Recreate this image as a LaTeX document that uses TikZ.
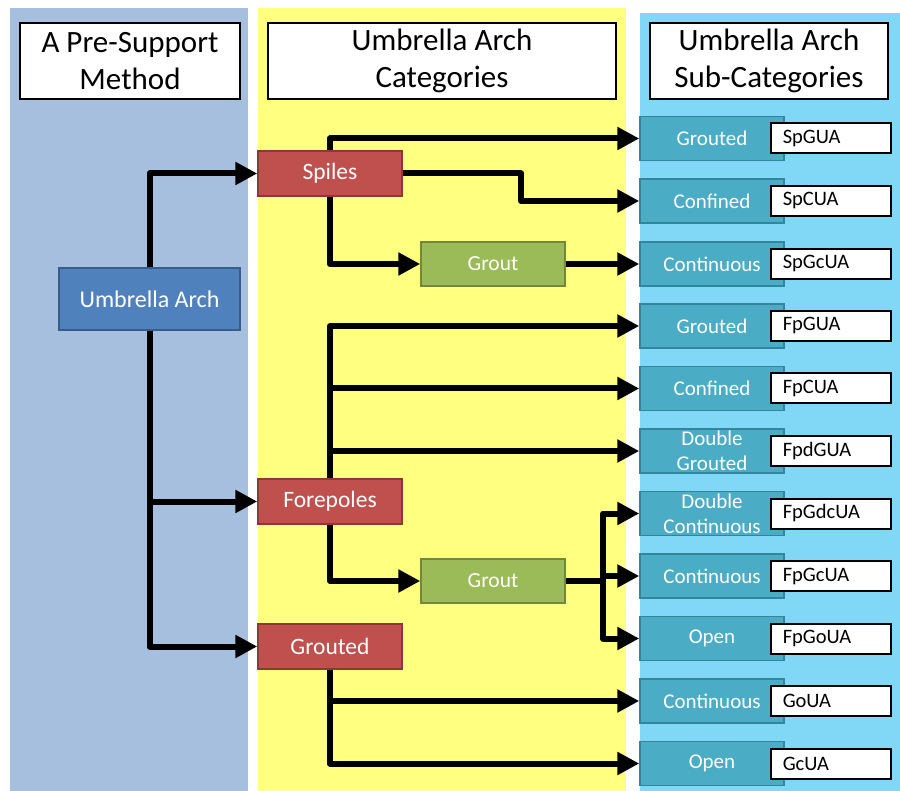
\documentclass[tikz,border=0pt]{standalone}
\usepackage{fontspec}
\setmainfont{Carlito}
\usetikzlibrary{positioning}
\usetikzlibrary{arrows.meta}
\definecolor{col-left}{RGB}{167,191,222}
\definecolor{col-mid}{RGB}{255,255,128}
\definecolor{col-right}{RGB}{128,216,246}
\definecolor{arch-blue}{RGB}{79,129,189}
\definecolor{arch-blue-dark}{RGB}{56,93,138}
\definecolor{cat-red}{RGB}{192,80,77}
\definecolor{cat-red-dark}{RGB}{140,56,53}
\definecolor{grout-green}{RGB}{155,187,89}
\definecolor{grout-green-dark}{RGB}{113,137,62}
\definecolor{sub-teal}{RGB}{75,172,198}
\definecolor{sub-teal-dark}{RGB}{49,133,156}

\begin{document}
\begin{tikzpicture}[x=1pt, y=-1pt, >={Triangle[length=22pt,width=22pt]},
  link/.style={line width=6pt, line join=round, ->},
  head/.style={draw, line width=2.5pt, fill=white, minimum height=76pt, align=center, font=\fontsize{31}{37}\selectfont},
  main/.style={fill=arch-blue, draw=arch-blue-dark, line width=1.5pt, text=white, minimum width=181pt, minimum height=62pt, font=\fontsize{24}{28}\selectfont},
  cat/.style={fill=cat-red, draw=cat-red-dark, line width=1.5pt, text=white, minimum width=144pt, minimum height=45pt, font=\fontsize{23.5}{28}\selectfont},
  grout/.style={fill=grout-green, draw=grout-green-dark, line width=1.5pt, text=white, minimum width=144pt, minimum height=44pt, font=\fontsize{21.5}{25}\selectfont},
  sub/.style={fill=sub-teal, draw=sub-teal-dark, line width=1.5pt, text=white, minimum width=144pt, minimum height=44pt, inner ysep=0pt, align=center, font=\fontsize{21}{25}\selectfont},
  code/.style={draw, line width=2pt, fill=white, text width=96pt, inner xsep=12pt, inner ysep=0pt, minimum height=30pt, align=left, font=\fontsize{20.5}{24}\selectfont},
  node distance=-15pt]

\useasboundingbox (0,0) rectangle (900,791);

% the three columns
\fill [col-left] (10,8) rectangle (248,791);
\fill [col-mid] (258,8) rectangle (626,791);
\fill [col-right] (640,13) rectangle (900,791);

\node [head, minimum width=220pt] (h1) at (130,61) {A Pre-Support\\Method};
\node [head, minimum width=348pt] (h2) at (442,61) {Umbrella Arch\\Categories};
\node [head, minimum width=238pt] (h3) at (769,61) {Umbrella Arch\\Sub-Categories};

\node [main] (ua) at (149.5,299) {Umbrella Arch};

\node [cat] (sp) at (330,173.5) {Spiles};
\node [cat] (fp) at (330,501.5) {Forepoles};
\node [cat] (gr) at (330,646.5) {Grouted};

\node [grout] (g1) at (493,264) {Grout};
\node [grout] (g2) at (493,581) {Grout};

\node [sub] (s1) at (712,138.5) {Grouted};
\node [sub] (s2) at (712,201) {Confined};
\node [sub] (s3) at (712,264) {Continuous};
\node [sub] (s4) at (712,326) {Grouted};
\node [sub] (s5) at (712,388.5) {Confined};
\node [sub] (s6) at (712,451) {Double\\Grouted};
\node [sub] (s7) at (712,513.5) {Double\\Continuous};
\node [sub] (s8) at (712,576) {Continuous};
\node [sub] (s9) at (712,638.5) {Open};
\node [sub] (s10) at (712,701) {Continuous};
\node [sub] (s11) at (712,763.5) {Open};

\node [code, right = of s1] {SpGUA};
\node [code, right = of s2] {SpCUA};
\node [code, right = of s3] {SpGcUA};
\node [code, right = of s4] {FpGUA};
\node [code, right = of s5] {FpCUA};
\node [code, right = of s6] {FpdGUA};
\node [code, right = of s7] {FpGdcUA};
\node [code, right = of s8] {FpGcUA};
\node [code, right = of s9] {FpGoUA};
\node [code, right = of s10] {GoUA};
\node [code, right = of s11] {GcUA};

\coordinate (bend) at (521,201);
\coordinate (split) at (603,581);

\draw [link] (ua.north) |- (sp.west);
\draw [link] (ua.south) |- (fp.west);
\draw [link] (ua.south) |- (gr.west);

\draw [link] (sp.north) |- (s1.west);
\draw [link] (sp.east) -| (bend) -- (s2.west);
\draw [link] (sp.south) |- (g1.west);
\draw [link] (g1.east) -- (s3.west);

\draw [link] (fp.north) |- (s4.west);
\draw [link] (fp.north) |- (s5.west);
\draw [link] (fp.north) |- (s6.west);
\draw [link] (fp.south) |- (g2.west);
\draw [line width=6pt] (g2.east) -- (split);
\draw [link] (split) |- (s7.west);
\draw [link] (split) |- (s8.west);
\draw [link] (split) |- (s9.west);

\draw [link] (gr.south) |- (s10.west);
\draw [link] (gr.south) |- (s11.west);

\end{tikzpicture}
\end{document}
